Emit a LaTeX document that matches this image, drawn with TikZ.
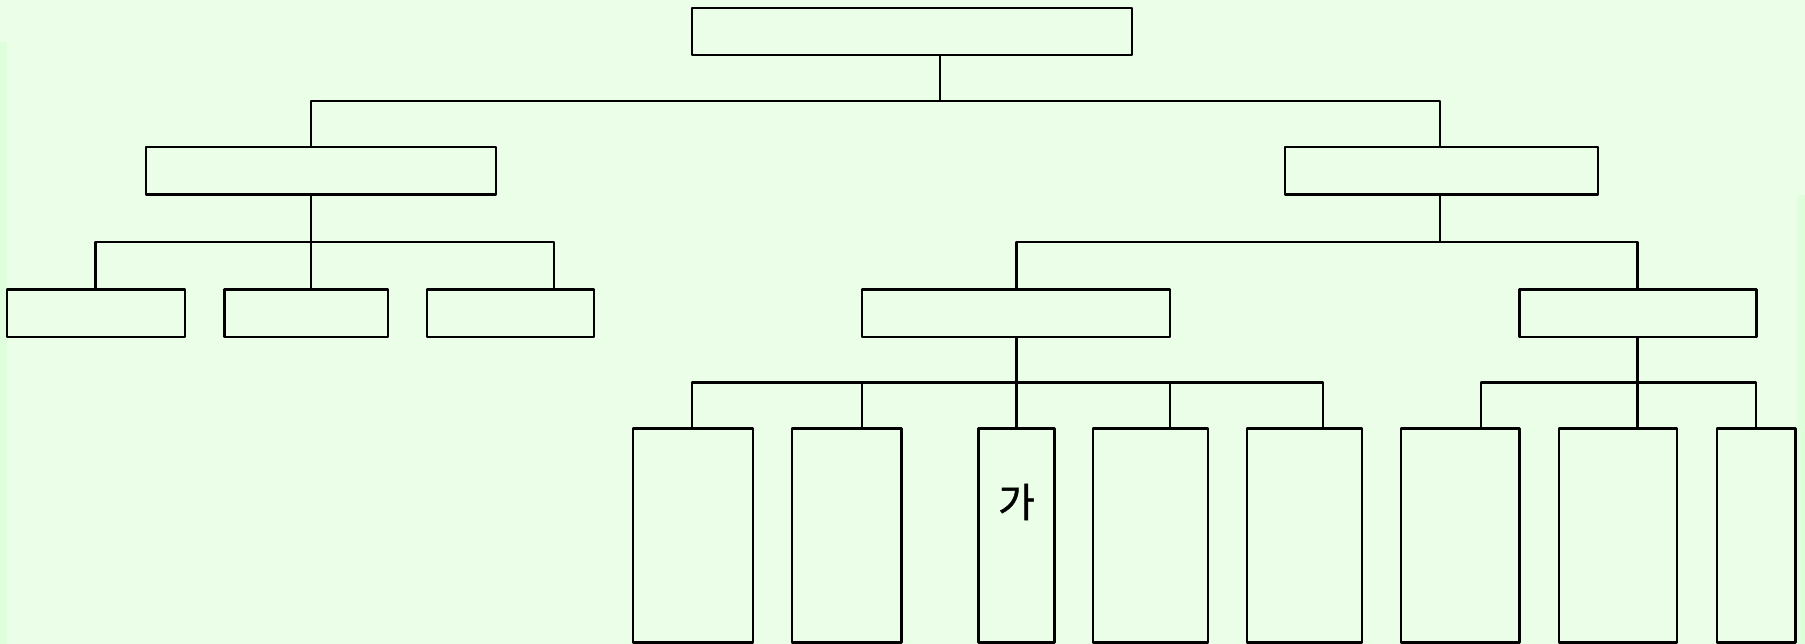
\documentclass[tikz,border=0pt]{standalone}
\usepackage{fontspec}
\newfontfamily\krfont[FakeBold=1]{Noto Sans CJK KR}
\definecolor{bgc}{RGB}{234,254,232}
\definecolor{stripc}{RGB}{222,254,220}
\begin{document}
\begin{tikzpicture}[x=1pt,y=-1pt,
  box/.style={draw=black,line width=2.5pt,inner sep=0pt,outer sep=0pt,fill=none,line join=round},
  conn/.style={draw=black,line width=2.5pt,line join=round}]
\useasboundingbox (0,0) rectangle (1805,644);
\fill[bgc] (0,0) rectangle (1805,644);
\fill[stripc] (0,42) rectangle (6.5,644);
\fill[stripc] (1797,195) rectangle (1805,644);
% boxes
\node[box,minimum width=440pt,minimum height=47pt] (root) at (912,31.5) {};
\node[box,minimum width=350pt,minimum height=47.5pt] (l1l) at (321,170.75) {};
\node[box,minimum width=313pt,minimum height=47.5pt] (l1r) at (1441.5,170.75) {};
\node[box,minimum width=178pt,minimum height=47.5pt] (a1) at (96,313.5) {};
\node[box,minimum width=163.5pt,minimum height=47.5pt] (a2) at (306.25,313.5) {};
\node[box,minimum width=167pt,minimum height=47.5pt] (a3) at (510.5,313.5) {};
\node[box,minimum width=308pt,minimum height=47.5pt] (b1) at (1016,313.5) {};
\node[box,minimum width=237pt,minimum height=47.5pt] (b2) at (1638,313.5) {};
\node[box,minimum width=119.6pt,minimum height=214pt] (c1) at (693,535.5) {};
\node[box,minimum width=109.5pt,minimum height=214pt] (c2) at (846.75,535.5) {};
\node[box,minimum width=76pt,minimum height=214pt] (c3) at (1016.5,535.5) {};
\node[box,minimum width=115pt,minimum height=214pt] (c4) at (1150.3,535.5) {};
\node[box,minimum width=115.2pt,minimum height=214pt] (c5) at (1304.4,535.5) {};
\node[box,minimum width=118.5pt,minimum height=214pt] (d1) at (1460.25,535.5) {};
\node[box,minimum width=118pt,minimum height=214pt] (d2) at (1618,535.5) {};
\node[box,minimum width=78.7pt,minimum height=214pt] (d3) at (1756.15,535.5) {};
\node[font=\krfont\fontsize{40}{40}\selectfont,inner sep=0pt] (ga) at (1016.5,502) {가};
% bus coordinates
\coordinate (t0) at (940,101);
\coordinate (k0a) at (311,101);
\coordinate (k0b) at (1440,101);
\coordinate (t1) at (311,242);
\coordinate (k1a) at (95.5,242);
\coordinate (k1b) at (311,242);
\coordinate (k1c) at (554,242);
\coordinate (t2) at (1440,242);
\coordinate (k2a) at (1016.5,242);
\coordinate (k2b) at (1637.5,242);
\coordinate (t3) at (1016.5,382.5);
\coordinate (k3a) at (692,382.5);
\coordinate (k3b) at (862,382.5);
\coordinate (k3c) at (1016.5,382.5);
\coordinate (k3d) at (1170,382.5);
\coordinate (k3e) at (1323,382.5);
\coordinate (t4) at (1637.5,382.5);
\coordinate (k4a) at (1481,382.5);
\coordinate (k4b) at (1637.5,382.5);
\coordinate (k4c) at (1756,382.5);
% level 0 -> 1
\draw[conn] (root.south -| t0) -- (t0);
\draw[conn] (k0a |- l1l.north) -- (k0a) -- (k0b) -- (k0b |- l1r.north);
% left group
\draw[conn] (l1l.south -| t1) -- (t1);
\draw[conn] (k1a |- a1.north) -- (k1a) -- (k1c) -- (k1c |- a3.north);
\draw[conn] (k1b) -- (k1b |- a2.north);
% right group
\draw[conn] (l1r.south -| t2) -- (t2);
\draw[conn] (k2a |- b1.north) -- (k2a) -- (k2b) -- (k2b |- b2.north);
% b1 children
\draw[conn] (b1.south -| t3) -- (t3);
\draw[conn] (k3a |- c1.north) -- (k3a) -- (k3e) -- (k3e |- c5.north);
\draw[conn] (k3b) -- (k3b |- c2.north);
\draw[conn] (k3c) -- (k3c |- c3.north);
\draw[conn] (k3d) -- (k3d |- c4.north);
% b2 children
\draw[conn] (b2.south -| t4) -- (t4);
\draw[conn] (k4a |- d1.north) -- (k4a) -- (k4c) -- (k4c |- d3.north);
\draw[conn] (k4b) -- (k4b |- d2.north);
\end{tikzpicture}
\end{document}
